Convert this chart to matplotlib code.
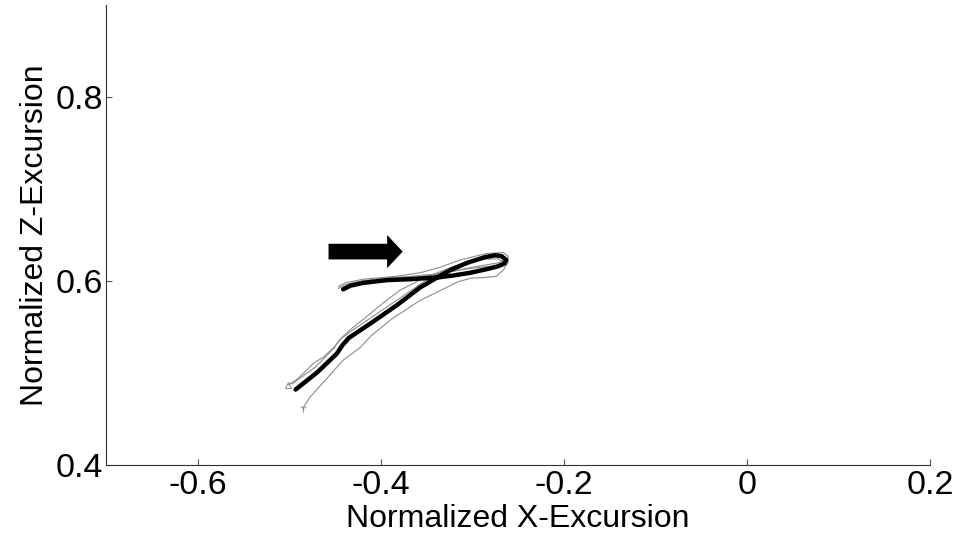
import matplotlib
matplotlib.use("Agg")
import matplotlib.pyplot as plt
from matplotlib.patches import FancyArrow

plt.rcParams['font.family'] = ['Liberation Sans', 'DejaVu Sans']

# ==== Mean trajectory (thick) ====
mean_x = [-0.493, -0.469, -0.448, -0.442, -0.435, -0.411, -0.382, -0.357, -0.338,
          -0.324, -0.305, -0.286, -0.275, -0.268, -0.263, -0.265, -0.272, -0.284,
          -0.302, -0.321, -0.337, -0.368, -0.393, -0.419, -0.433, -0.441]
mean_z = [0.482, 0.501, 0.521, 0.530, 0.538, 0.554, 0.574, 0.593, 0.604,
          0.612, 0.620, 0.626, 0.628, 0.627, 0.623, 0.619, 0.616, 0.613,
          0.609, 0.606, 0.604, 0.602, 0.601, 0.598, 0.595, 0.591]

# ==== Individual trials (thin grey) ====
trial_a_x = [-0.501, -0.493, -0.484, -0.473, -0.463, -0.452, -0.442, -0.431, -0.417,
             -0.400, -0.379, -0.357, -0.338, -0.320, -0.302, -0.285, -0.272, -0.266,
             -0.268, -0.276, -0.292, -0.313, -0.335, -0.368, -0.400, -0.422, -0.439, -0.446]
trial_a_z = [0.487, 0.492, 0.500, 0.511, 0.517, 0.527, 0.539, 0.549, 0.560,
             0.574, 0.590, 0.601, 0.609, 0.616, 0.621, 0.624, 0.624, 0.621,
             0.618, 0.616, 0.615, 0.612, 0.608, 0.605, 0.603, 0.600, 0.596, 0.592]

trial_b_x = [-0.485, -0.477, -0.458, -0.441, -0.422, -0.411, -0.389, -0.357, -0.332,
             -0.316, -0.302, -0.285, -0.274, -0.266, -0.261, -0.261, -0.266, -0.284,
             -0.313, -0.335, -0.357, -0.384, -0.419, -0.439, -0.446]
trial_b_z = [0.462, 0.474, 0.495, 0.514, 0.528, 0.540, 0.558, 0.579, 0.591,
             0.599, 0.603, 0.604, 0.605, 0.612, 0.620, 0.627, 0.631, 0.630,
             0.623, 0.615, 0.609, 0.605, 0.602, 0.598, 0.594]

trial_c_x = [-0.497, -0.472, -0.451, -0.445, -0.430, -0.405, -0.378, -0.352, -0.335,
             -0.314, -0.292, -0.278, -0.268, -0.264, -0.270, -0.288, -0.310, -0.340,
             -0.370, -0.395, -0.416, -0.432, -0.441]
trial_c_z = [0.488, 0.506, 0.527, 0.536, 0.547, 0.564, 0.582, 0.600, 0.609,
             0.618, 0.625, 0.629, 0.629, 0.625, 0.620, 0.617, 0.613, 0.607,
             0.604, 0.602, 0.599, 0.594, 0.590]

# ==== Direction arrow ====
arrow_x, arrow_z = -0.457, 0.632
arrow_len = 0.081

fig = plt.figure(figsize=(9.55, 5.36), dpi=100)
ax = fig.add_axes([0.111, 0.1325, 0.863, 0.858])

for tx, tz in [(trial_a_x, trial_a_z), (trial_b_x, trial_b_z), (trial_c_x, trial_c_z)]:
    ax.plot(tx, tz, color='#8c8c8c', lw=0.8)

# small direction ticks at the start of the outer trials
ax.plot(trial_a_x[0], trial_a_z[0], marker='^', ms=5, mfc='none', mec='#8c8c8c', mew=0.7)
ax.plot(trial_b_x[0], trial_b_z[0], marker='1', ms=6, mec='#8c8c8c', mew=0.7)

ax.plot(mean_x, mean_z, color='black', lw=3.2, solid_capstyle='round',
        solid_joinstyle='round')

ax.add_patch(FancyArrow(arrow_x, arrow_z, arrow_len, 0, width=0.017,
                        head_width=0.036, head_length=0.017,
                        length_includes_head=True, color='black', lw=0))

ax.set_xlim(-0.7, 0.2)
ax.set_ylim(0.4, 0.9)
ax.set_xticks([-0.6, -0.4, -0.2, 0, 0.2])
ax.set_xticklabels(['-0.6', '-0.4', '-0.2', '0', '0.2'])
ax.set_yticks([0.4, 0.6, 0.8])
ax.set_yticklabels(['0.4', '0.6', '0.8'])

ax.spines['top'].set_visible(False)
ax.spines['right'].set_visible(False)
for s in ['left', 'bottom']:
    ax.spines[s].set_color('#333333')
    ax.spines[s].set_linewidth(0.8)

ax.tick_params(direction='in', length=4, width=0.8, color='#555555',
               labelsize=24.5)
ax.tick_params(axis='x', pad=3.5)
ax.tick_params(axis='y', pad=2)

ax.set_xlabel('Normalized X-Excursion', fontsize=23, labelpad=2)
ax.set_ylabel('Normalized Z-Excursion', fontsize=23, labelpad=4)

fig.savefig('out.png', dpi=100)
